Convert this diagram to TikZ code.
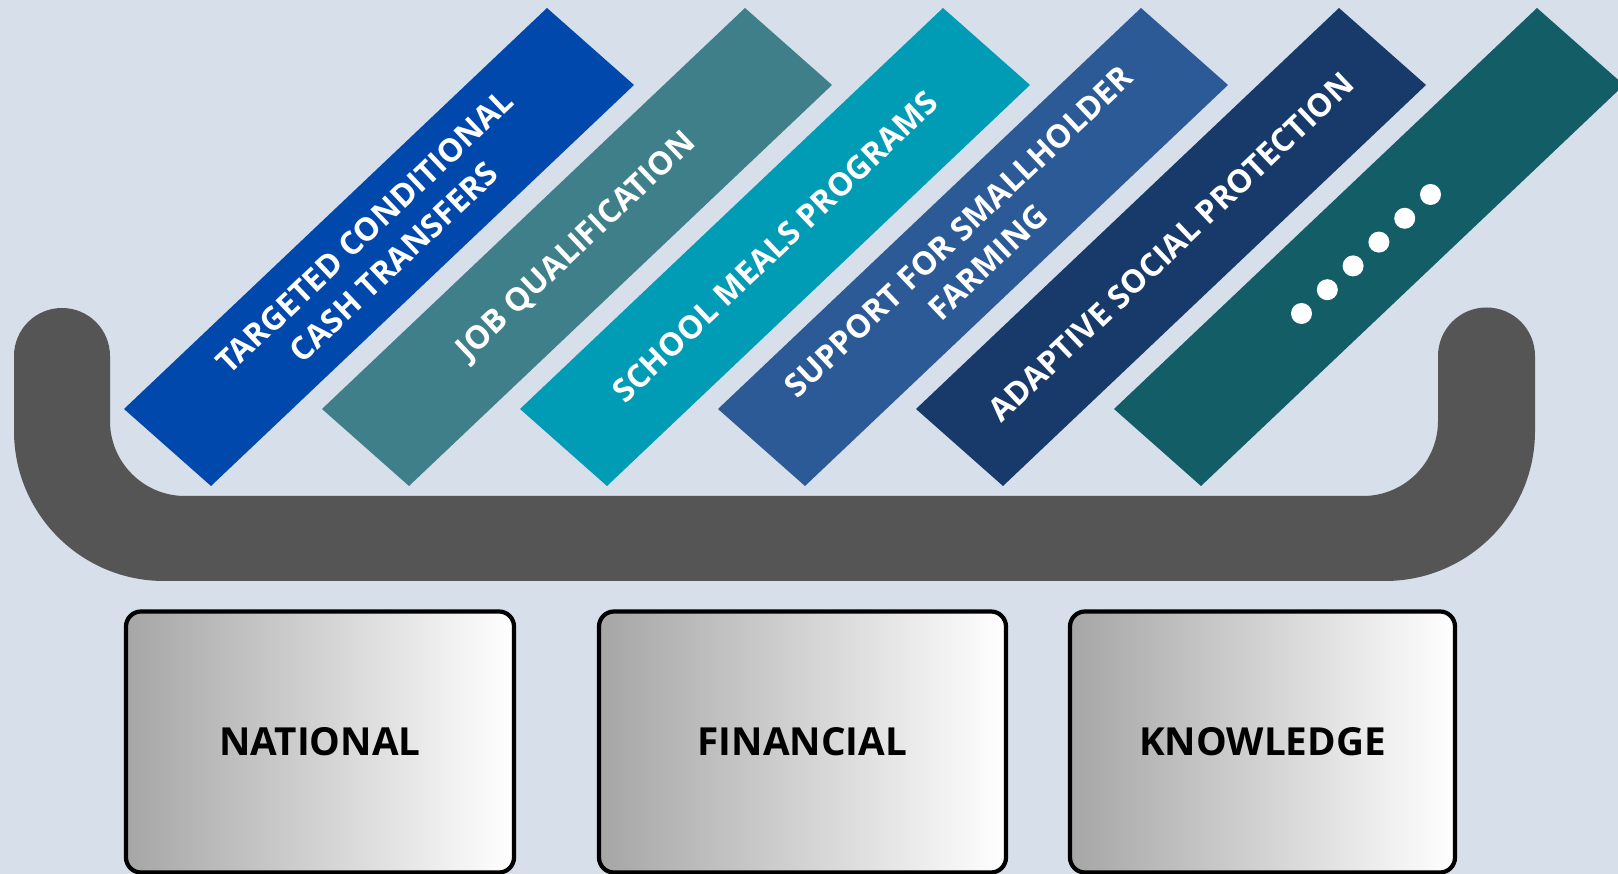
\documentclass[tikz,border=0pt]{standalone}
\usepackage{fontspec}
\setmainfont{Open Sans}
\usetikzlibrary{calc}

\definecolor{bgcol}{HTML}{D6DFEA}
\definecolor{traycol}{HTML}{555555}
\definecolor{barA}{HTML}{0048AC}
\definecolor{barB}{HTML}{3F7F8A}
\definecolor{barC}{HTML}{009BB4}
\definecolor{barD}{HTML}{2C5A96}
\definecolor{barE}{HTML}{173A6B}
\definecolor{barF}{HTML}{125D66}

\begin{document}
\begin{tikzpicture}[x=0.1mm, y=0.1mm,
    bartext/.style={text=white, align=center, rotate=43.5,
                    font=\fontsize{9.1}{12}\selectfont\bfseries},
    pillar/.style={draw=black, line width=1.2pt, rounded corners=1.5mm,
                   left color=black!35, right color=white,
                   font=\fontsize{11}{13}\selectfont\bfseries}]
    % background
    \useasboundingbox (0,0) rectangle (1618,874);
    \clip (0,0) rectangle (1618,874);
    \fill[bgcol] (0,0) rectangle (1618,874);

    % draw tray
    \fill[traycol] (14,518) arc[start angle=180, end angle=0, radius=48]
      -- (110,453) arc[start angle=180, end angle=270, radius=75]
      -- (1363,378) arc[start angle=270, end angle=360, radius=75]
      -- (1438,518) arc[start angle=180, end angle=0, radius=48.5]
      -- (1535,443) arc[start angle=0, end angle=-90, radius=150]
      -- (164,293) arc[start angle=270, end angle=180, radius=150]
      -- cycle;

    % draw slanted bars
    \foreach \col/\txt [count=\i from 0] in {
        barA/{TARGETED CONDITIONAL\\CASH TRANSFERS},
        barB/{JOB QUALIFICATION},
        barC/{SCHOOL MEALS PROGRAMS},
        barD/{SUPPORT FOR SMALLHOLDER\\FARMING},
        barE/{ADAPTIVE SOCIAL PROTECTION}}
    {
      \pgfmathsetmacro\dx{198*\i}
      \fill[\col] (124+\dx,465) -- (547+\dx,866) -- (634+\dx,789) -- (211+\dx,388) -- cycle;
      \node[bartext] (bar\i) at (379+\dx,627) {\txt};
    }
    \fill[barF] (1114,465) -- (1537,866) -- (1624,789) -- (1201,388) -- cycle;
    \coordinate (more) at (1366,620);
    \foreach \k in {0,...,5}
      \fill[white] ($(more)+({(\k-2.5)*25.8},{(\k-2.5)*23.8})$) circle[radius=10.5];

    % draw pillars
    \node[pillar, minimum width=38.8mm, minimum height=26.1mm] (national) at (320,132) {NATIONAL};
    \node[pillar, minimum width=40.7mm, minimum height=26.1mm] (financial) at (802.5,132) {FINANCIAL};
    \node[pillar, minimum width=38.5mm, minimum height=26.1mm] (knowledge) at (1262.5,132) {KNOWLEDGE};
\end{tikzpicture}
\end{document}
